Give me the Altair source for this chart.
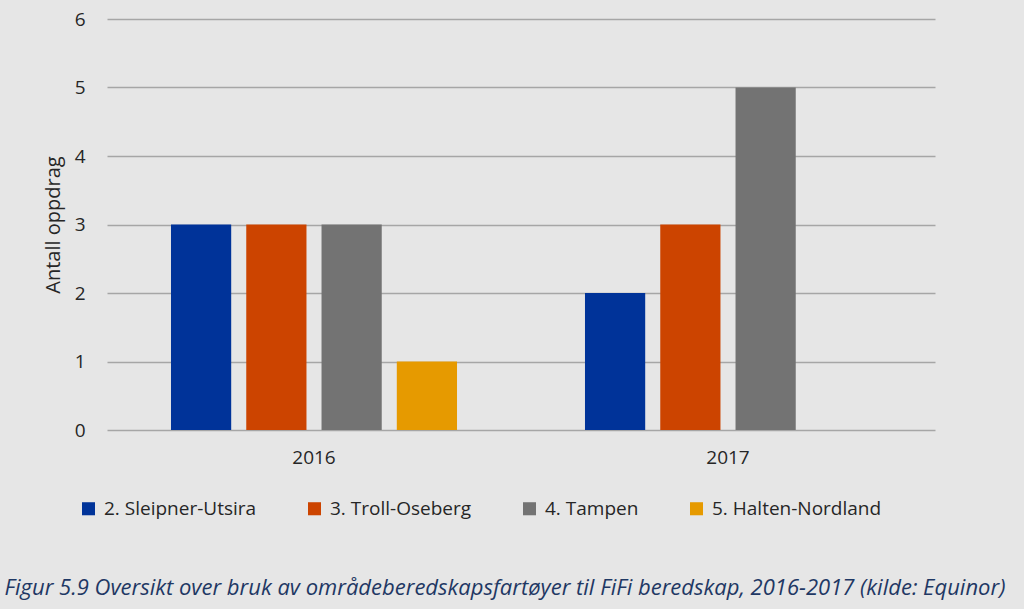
import altair as alt
import pandas as pd

years = ["2016", "2017"]
series = ["2. Sleipner-Utsira", "3. Troll-Oseberg", "4. Tampen", "5. Halten-Nordland"]
values_2016 = [3, 3, 3, 1]
values_2017 = [2, 3, 5, 0]
colors = ["#003399", "#cc4400", "#737373", "#e69a00"]
y_ticks = [0, 1, 2, 3, 4, 5, 6]
caption = "Figur 5.9 Oversikt over bruk av områdeberedskapsfartøyer til FiFi beredskap, 2016-2017 (kilde: Equinor)"

rows = []
for y, vals in zip(years, [values_2016, values_2017]):
    for s, v in zip(series, vals):
        rows.append({"year": y, "series": s, "value": v})
df = pd.DataFrame(rows)

FONT = "Open Sans"
TXT = "#262626"

bars = alt.Chart(df).mark_bar().encode(
    x=alt.X("year:N", sort=years,
            scale=alt.Scale(paddingInner=0, paddingOuter=0),
            axis=alt.Axis(title=None, labelAngle=0, labelFontSize=19, labelColor=TXT,
                          labelFont=FONT, ticks=False, domain=False, labelPadding=18)),
    xOffset=alt.XOffset("series:N", sort=series,
                        scale=alt.Scale(paddingInner=0.2, paddingOuter=0.85)),
    y=alt.Y("value:Q", scale=alt.Scale(domain=[0, 6], nice=False),
            axis=alt.Axis(title="Antall oppdrag", values=y_ticks, labelOverlap=False,
                          labelFontSize=19, labelColor=TXT, labelFont=FONT,
                          titleFont=FONT, titleFontSize=20, titleFontWeight="normal",
                          titleColor=TXT, titlePadding=11,
                          ticks=False, domain=False, labelPadding=22,
                          gridColor="#a6a6a6", gridWidth=1.6)),
    color=alt.Color("series:N", sort=series,
                    scale=alt.Scale(domain=series, range=colors),
                    legend=alt.Legend(title=None, orient="none", direction="horizontal",
                                      legendX=-28, legendY=480, columns=4,
                                      symbolType="square", symbolSize=170,
                                      symbolStrokeWidth=0, labelFontSize=19,
                                      labelFont=FONT, labelColor=TXT,
                                      columnPadding=48, labelOffset=6, labelLimit=300)),
)

cap = alt.Chart(pd.DataFrame({"t": [caption]})).mark_text(
    font=FONT, fontSize=22, fontStyle="italic", color="#1f3864",
    align="center", baseline="middle",
).encode(x=alt.value(398), y=alt.value(569), text="t:N")

chart = alt.layer(bars, cap).properties(
    width=828,
    height=411,
    autosize=alt.AutoSizeParams(type="none"),
    padding={"left": 107, "top": 19, "right": 89, "bottom": 179},
    background="#e6e6e6",
).configure_view(stroke=None)

chart.save("out.html", embed_options={"renderer": "svg", "actions": False})
